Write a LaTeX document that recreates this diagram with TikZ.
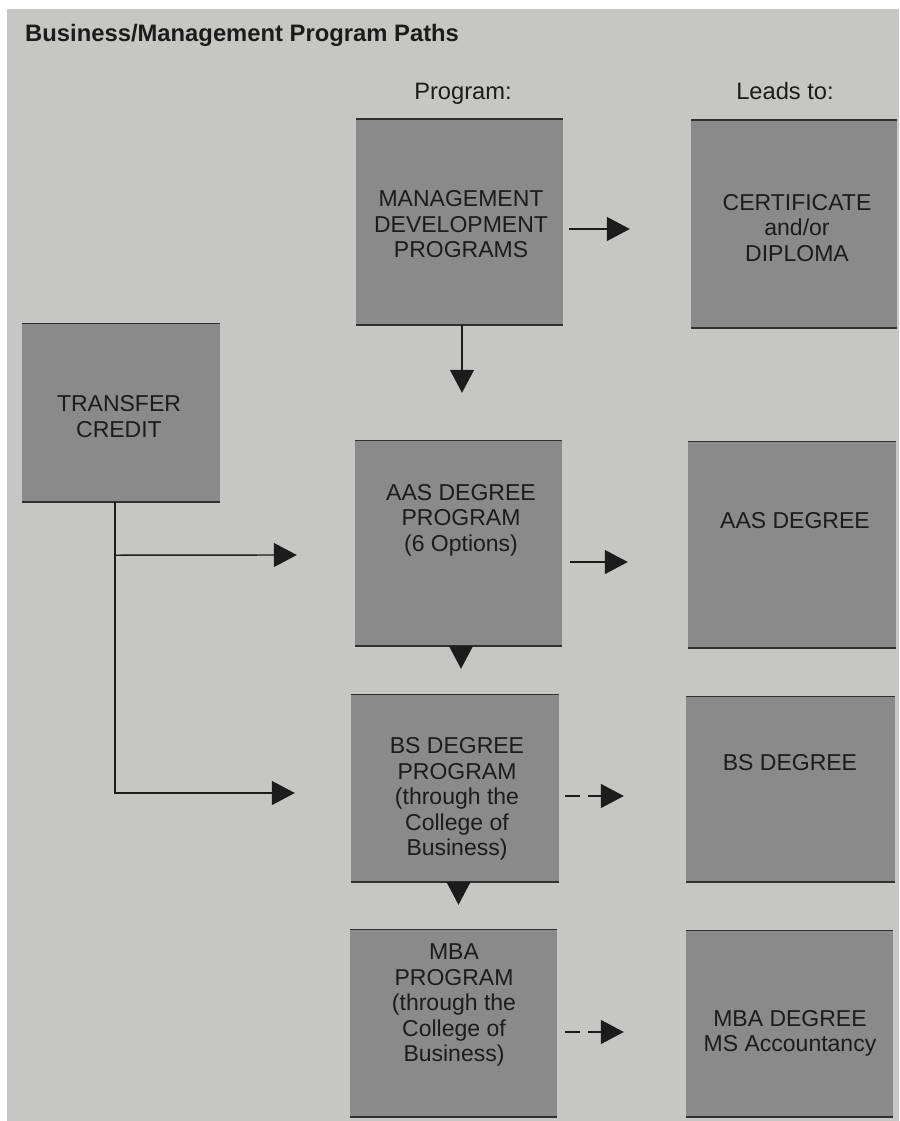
\documentclass[tikz,border=0pt]{standalone}
\usepackage{fontspec}
\setmainfont{Liberation Sans}
\usetikzlibrary{arrows.meta,calc}
\definecolor{paper}{HTML}{C6C6C4}
\definecolor{boxgray}{HTML}{8A8A8A}
\definecolor{ink}{HTML}{1C1C1C}
\definecolor{edgecol}{HTML}{303030}
\tikzset{
  box/.style={rectangle, fill=boxgray, inner sep=0pt,
    path picture={\draw[edgecol, line width=2.6pt]
      (path picture bounding box.north west) -- (path picture bounding box.north east)
      (path picture bounding box.south west) -- (path picture bounding box.south east);}},
  boxtext/.style={inner sep=0pt, align=center, text=ink, font=\fontsize{23}{25.5}\selectfont},
  head/.style={inner sep=0pt, text=ink, font=\fontsize{23.7}{27}\selectfont},
  arr/.style={-{Triangle[length=23pt,width=24pt]}, line width=1.4pt, draw=ink},
  dasharr/.style={arr, dash pattern=on 15pt off 8pt}
}
\begin{document}
\begin{tikzpicture}[x=1pt,y=-1pt]
\useasboundingbox (0,0) rectangle (899,1121);
\fill[white] (0,0) rectangle (899,1121);
\fill[paper] (7,9) rectangle (899,1121);

\node[inner sep=0pt, anchor=base west, text=ink, font=\bfseries\fontsize{23.8}{27}\selectfont] (title) at (25,42) {Business/Management Program Paths};
\node[head, anchor=base] (hprog) at (463,100) {Program:};
\node[head, anchor=base] (hleads) at (785,100) {Leads to:};

% boxes
\node[box, minimum width=207pt, minimum height=206pt] (mdp) at (459.5,222) {};
\node[box, minimum width=206pt, minimum height=208pt] (cert) at (794,224) {};
\node[box, minimum width=198pt, minimum height=179pt] (tc) at (121,412.5) {};
\node[box, minimum width=207pt, minimum height=206pt] (aasp) at (458.5,543) {};
\node[box, minimum width=208pt, minimum height=207pt] (aasd) at (792,544.5) {};
\node[box, minimum width=208pt, minimum height=188pt] (bsp) at (455,788) {};
\node[box, minimum width=209pt, minimum height=186pt] (bsd) at (790.5,789) {};
\node[box, minimum width=207pt, minimum height=188pt] (mbap) at (453.5,1023) {};
\node[box, minimum width=207pt, minimum height=187pt] (mbad) at (789.5,1023.5) {};

% texts
\node[boxtext] (mdpt) at (461,224.5) {MANAGEMENT\\DEVELOPMENT\\PROGRAMS};
\node[boxtext] (certt) at (797,228) {CERTIFICATE\\and/or\\DIPLOMA};
\node[boxtext] (tct) at (119,416.5) {TRANSFER\\CREDIT};
\node[boxtext] (aaspt) at (461,520) {AAS DEGREE\\PROGRAM\\(6 Options)};
\node[boxtext] (aasdt) at (795,521) {AAS DEGREE};
\node[boxtext] (bspt) at (457,799) {BS DEGREE\\PROGRAM\\(through the\\College of\\Business)};
\node[boxtext] (bsdt) at (790,763) {BS DEGREE};
\node[boxtext] (mbapt) at (454,1005) {MBA\\PROGRAM\\(through the\\College of\\Business)};
\node[boxtext] (mbadt) at (790,1033.5) {MBA DEGREE\\MS Accountancy};

% connectors
\draw[arr] ($(mdp.east)+(6,7)$) -- ($(cert.west)+(-61,5)$);
\draw[arr] ($(mdp.south)+(2.5,0)$) -- ($(aasp.north)+(3.5,-47)$);
\draw[arr] ($(aasp.east)+(8,19)$) -- ($(aasd.west)+(-60,17.5)$);
\draw[dasharr] ($(bsp.east)+(6,8)$) -- ($(bsd.west)+(-62,7)$);
\draw[dasharr] ($(mbap.east)+(8,9)$) -- ($(mbad.west)+(-62,8.5)$);
\draw[arr] ($(aasp.south)+(2.5,0)$) -- ($(bsp.north)+(6,-25)$);
\draw[arr] ($(bsp.south)+(3.5,0)$) -- ($(mbap.north)+(5,-24)$);
\draw[arr] ($(tc.south)+(-6,0)$) |- ($(bsp.west)+(-56,5)$);
\draw[arr] ($(tc.south)+(-6,53)$) -- ($(aasp.west)+(-58,12)$);
\end{tikzpicture}
\end{document}
